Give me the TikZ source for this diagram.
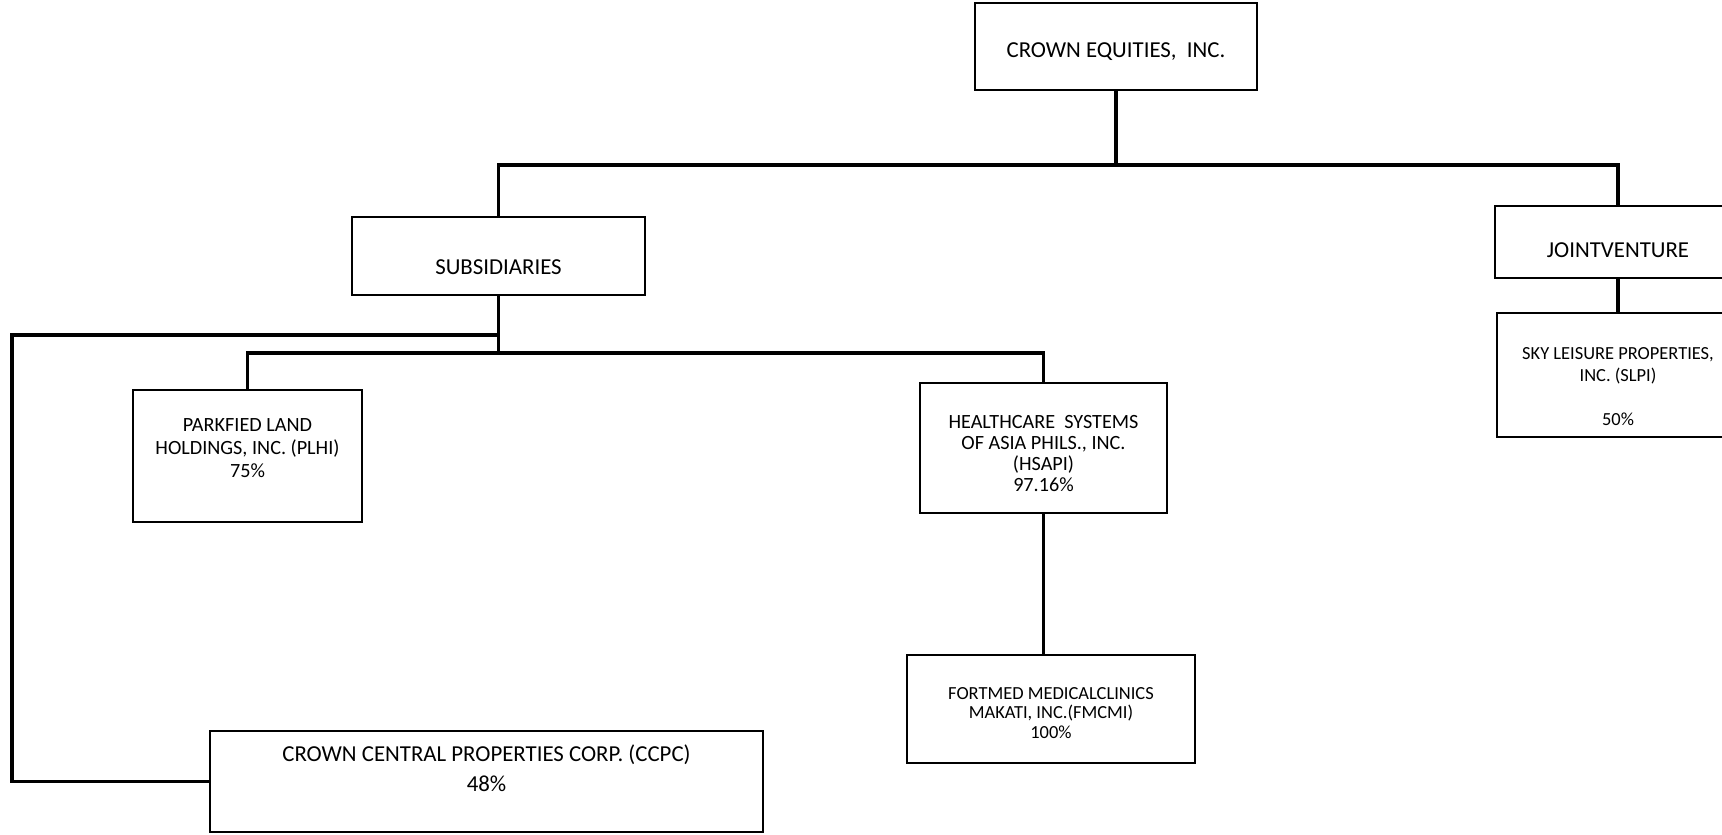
\documentclass[tikz,border=0pt]{standalone}
\usepackage{fontspec}
\setmainfont{Carlito}

\begin{document}
\begin{tikzpicture}[x=0.02cm, y=-0.02cm,
                box/.style={draw=black, line width=1.6pt, rectangle, inner sep=0pt},
                txt/.style={align=center, inner sep=0pt},
                link/.style={black, line width=2.2pt}]
                \useasboundingbox [fill=white] (0, 0) rectangle (1722, 835);
                % boxes
                \node [box, minimum width=5.64cm, minimum height=1.74cm] (ce) at (1116, 46.5) {};
                \node [box, minimum width=5.86cm, minimum height=1.56cm] (subs) at (498.5, 256) {};
                \node [box, minimum width=4.92cm, minimum height=1.44cm] (jv) at (1618, 242) {};
                \node [box, minimum width=4.84cm, minimum height=2.48cm] (slpi) at (1618, 375) {};
                \node [box, minimum width=4.58cm, minimum height=2.64cm] (plhi) at (247.5, 456) {};
                \node [box, minimum width=4.94cm, minimum height=2.60cm] (hsapi) at (1043.5, 448) {};
                \node [box, minimum width=5.76cm, minimum height=2.16cm] (fmcmi) at (1051, 709) {};
                \node [box, minimum width=11.06cm, minimum height=2.02cm] (ccpc) at (486.5, 781.5) {};
                % texts
                \node [txt, font=\fontsize{13}{15}\selectfont] (ce-txt) at ([yshift=-0.1cm]ce.center) {CROWN EQUITIES,\ \ INC.};
                \node [txt, font=\fontsize{13}{15}\selectfont] (subs-txt) at ([yshift=-0.22cm]subs.center) {SUBSIDIARIES};
                \node [txt, font=\fontsize{13}{15}\selectfont] (jv-txt) at ([yshift=-0.16cm]jv.center) {JOINTVENTURE};
                \node [txt, font=\fontsize{10.5}{12.5}\selectfont] (slpi-txt) at ([yshift=-0.23cm]slpi.center) {SKY LEISURE PROPERTIES,\\ INC. (SLPI)\\[0.44cm] 50\%};
                \node [txt, font=\fontsize{11.5}{13.3}\selectfont] (plhi-txt) at ([yshift=0.16cm]plhi.center) {PARKFIED LAND\\ HOLDINGS,\ INC. (PLHI)\\ 75\%};
                \node [txt, font=\fontsize{11.5}{12}\selectfont] (hsapi-txt) at ([yshift=-0.11cm]hsapi.center) {HEALTHCARE\ \ SYSTEMS\\ OF ASIA PHILS., INC.\\ (HSAPI)\\ 97.16\%};
                \node [txt, font=\fontsize{10.5}{11.2}\selectfont] (fmcmi-txt) at ([yshift=-0.08cm]fmcmi.center) {FORTMED MEDICALCLINICS\\ MAKATI, INC.(FMCMI)\\ 100\%};
                \node [txt, font=\fontsize{13}{17}\selectfont] (ccpc-txt) at ([yshift=0.27cm]ccpc.center) {CROWN CENTRAL PROPERTIES CORP. (CCPC)\\ 48\%};
                % connectors
                \coordinate (topbar) at (1117, 165);
                \coordinate (midbar) at (500, 353);
                \coordinate (corner) at (12, 335);
                \draw [link] (ce.south) -- (ce.south |- topbar);
                \draw [link] (subs.north) |- (jv.north |- topbar) -- (jv.north);
                \draw [link] (jv.south) -- (slpi.north);
                \draw [link] (subs.south) -- (subs.south |- midbar);
                \draw [link] (plhi.north) |- (hsapi.north |- midbar) -- (hsapi.north);
                \draw [link] (subs.south |- corner) -- (corner) |- (ccpc.west);
                \draw [link] (hsapi.south) -- (hsapi.south |- fmcmi.north);
\end{tikzpicture}
\end{document}
